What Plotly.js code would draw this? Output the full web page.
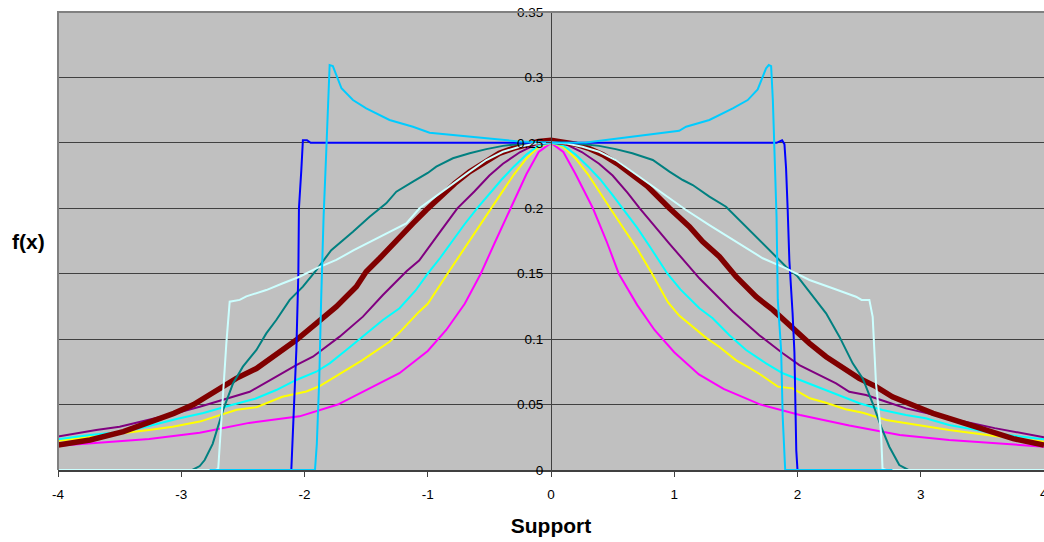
<!DOCTYPE html>
<html>
<head>
<meta charset="utf-8">
<script src="https://cdn.plot.ly/plotly-3.0.1.min.js"></script>
<style>
html,body{margin:0;padding:0;background:#fff;}
#chart{width:1044px;height:542px;}
</style>
</head>
<body>
<div id="chart"></div>
<script>
// ---- tick labels ----
const xTickVals = [-4, -3, -2, -1, 0, 1, 2, 3, 4];
const xTickText = ["-4", "-3", "-2", "-1", "0", "1", "2", "3", "4"];
const yTickVals = [0, 0.05, 0.1, 0.15, 0.2, 0.25, 0.3, 0.35];
const yTickText = ["0", "0.05", "0.1", "0.15", "0.2", "0.25", "0.3", "0.35"];

// ---- series ----
const magentaX = [-4, -3.66, -3.26, -2.85, -2.45, -2.04, -1.73, -1.5, -1.23, -1.0, -0.85, -0.7, -0.57, -0.45, -0.33, -0.2, -0.1, 0, 0.1, 0.2, 0.34, 0.45, 0.55, 0.7, 0.84, 1.0, 1.2, 1.4, 1.7, 2.02, 2.42, 2.83, 3.23, 3.6, 4];
const magentaY = [0.0186, 0.021, 0.0237, 0.0285, 0.036, 0.041, 0.05, 0.061, 0.074, 0.091, 0.107, 0.127, 0.15, 0.175, 0.2, 0.226, 0.243, 0.25, 0.243, 0.226, 0.2, 0.175, 0.15, 0.126, 0.107, 0.09, 0.073, 0.062, 0.05, 0.042, 0.034, 0.0267, 0.023, 0.0205, 0.0178];

const yellowX = [-4, -3.75, -3.47, -3.26, -3.07, -2.85, -2.55, -2.39, -2.18, -1.985, -1.88, -1.69, -1.53, -1.31, -1.23, -1.07, -1.0, -0.84, -0.7, -0.6, -0.49, -0.4, -0.3, -0.2, -0.1, 0, 0.1, 0.2, 0.3, 0.38, 0.48, 0.6, 0.7, 0.82, 0.95, 1.04, 1.204, 1.259, 1.367, 1.5, 1.61, 1.705, 1.84, 1.96, 2.1, 2.23, 2.39, 2.53, 2.72, 2.88, 3.23, 3.6, 4];
const yellowY = [0.0224, 0.025, 0.028, 0.0306, 0.033, 0.037, 0.046, 0.048, 0.056, 0.06, 0.064, 0.075, 0.084, 0.098, 0.105, 0.121, 0.127, 0.15, 0.17, 0.184, 0.2, 0.212, 0.226, 0.238, 0.247, 0.25, 0.247, 0.238, 0.226, 0.214, 0.2, 0.183, 0.169, 0.15, 0.128, 0.118, 0.1057, 0.101, 0.094, 0.084, 0.078, 0.0726, 0.0637, 0.0624, 0.0548, 0.0514, 0.0464, 0.0438, 0.0382, 0.0357, 0.0306, 0.026, 0.0216];

const cyanX = [-4, -3.74, -3.47, -3.27, -3.03, -2.82, -2.6, -2.4, -2.229, -2.067, -1.904, -1.796, -1.661, -1.526, -1.364, -1.229, -1.1, -1.0, -0.9, -0.8, -0.7, -0.6, -0.5, -0.4, -0.3, -0.2, -0.1, 0, 0.1, 0.2, 0.3, 0.4, 0.5, 0.58, 0.7, 0.8, 0.945, 1.05, 1.204, 1.312, 1.448, 1.583, 1.745, 1.88, 2.015, 2.232, 2.367, 2.502, 2.69, 2.88, 3.04, 3.23, 3.6, 4];
const cyanY = [0.0234, 0.0267, 0.0293, 0.0335, 0.0392, 0.0436, 0.0495, 0.0545, 0.0611, 0.0688, 0.0751, 0.0815, 0.0917, 0.102, 0.1146, 0.1236, 0.137, 0.15, 0.162, 0.175, 0.188, 0.2, 0.211, 0.222, 0.232, 0.241, 0.248, 0.25, 0.248, 0.241, 0.232, 0.222, 0.21, 0.2, 0.185, 0.171, 0.15, 0.138, 0.1236, 0.116, 0.103, 0.0917, 0.0815, 0.0739, 0.0688, 0.0611, 0.056, 0.051, 0.0459, 0.042, 0.0395, 0.0344, 0.028, 0.0234];

const purpleX = [-4, -3.69, -3.5, -3.26, -3.06, -2.85, -2.66, -2.445, -2.229, -2.067, -1.932, -1.715, -1.526, -1.364, -1.229, -1.17, -1.07, -0.985, -0.9, -0.76, -0.62, -0.5, -0.39, -0.25, -0.12, 0, 0.12, 0.25, 0.39, 0.5, 0.62, 0.72, 0.96, 1.204, 1.285, 1.367, 1.475, 1.69, 1.88, 2.015, 2.178, 2.313, 2.42, 2.556, 2.72, 2.88, 3.23, 3.6, 4];
const purpleY = [0.0255, 0.0306, 0.033, 0.0382, 0.043, 0.0484, 0.0535, 0.0598, 0.0713, 0.0802, 0.0866, 0.1019, 0.1172, 0.1337, 0.1465, 0.152, 0.16, 0.1707, 0.182, 0.2, 0.213, 0.225, 0.234, 0.243, 0.249, 0.25, 0.249, 0.243, 0.234, 0.225, 0.212, 0.2, 0.173, 0.1465, 0.1389, 0.131, 0.121, 0.103, 0.0892, 0.0802, 0.0726, 0.0662, 0.0598, 0.0573, 0.0522, 0.0471, 0.0395, 0.032, 0.025];

const darkRedX = [-4, -3.74, -3.47, -3.25, -3.06, -2.9, -2.715, -2.553, -2.39, -2.229, -2.067, -1.904, -1.742, -1.58, -1.5, -1.39, -1.255, -1.12, -1.012, -0.9, -0.78, -0.66, -0.54, -0.42, -0.3, -0.2, -0.1, 0, 0.1, 0.2, 0.3, 0.42, 0.54, 0.66, 0.78, 0.961, 1.123, 1.23, 1.367, 1.502, 1.664, 1.8, 1.96, 2.097, 2.232, 2.367, 2.5, 2.637, 2.77, 2.934, 3.1, 3.23, 3.5, 3.75, 4];
const darkRedY = [0.0191, 0.0229, 0.0293, 0.0369, 0.0433, 0.05, 0.0611, 0.07, 0.0775, 0.0879, 0.0993, 0.1121, 0.1248, 0.1401, 0.1515, 0.1618, 0.1758, 0.1885, 0.1987, 0.209, 0.219, 0.228, 0.235, 0.242, 0.246, 0.249, 0.251, 0.252, 0.251, 0.249, 0.246, 0.241, 0.234, 0.226, 0.217, 0.2, 0.186, 0.1745, 0.163, 0.1477, 0.1324, 0.1223, 0.1083, 0.0968, 0.0866, 0.0777, 0.0701, 0.0637, 0.056, 0.0497, 0.0433, 0.0395, 0.031, 0.024, 0.019];

const tealX = [-2.91, -2.85, -2.81, -2.745, -2.66, -2.58, -2.5, -2.39, -2.31, -2.229, -2.12, -2.013, -1.904, -1.783, -1.607, -1.472, -1.337, -1.255, -1.12, -1.0, -0.931, -0.796, -0.66, -0.525, -0.39, -0.255, -0.12, 0, 0.12, 0.255, 0.39, 0.525, 0.66, 0.826, 0.961, 1.069, 1.15, 1.285, 1.42, 1.5, 1.637, 1.772, 1.907, 2.0, 2.097, 2.232, 2.34, 2.448, 2.529, 2.61, 2.678, 2.745, 2.826, 2.88, 2.9];
const tealY = [0, 0.003, 0.0076, 0.02, 0.0459, 0.0662, 0.079, 0.0917, 0.1044, 0.1146, 0.13, 0.1401, 0.1528, 0.168, 0.1821, 0.1936, 0.2038, 0.2127, 0.2203, 0.227, 0.2318, 0.2382, 0.242, 0.2452, 0.2477, 0.2492, 0.2501, 0.2505, 0.2501, 0.2492, 0.2477, 0.2452, 0.242, 0.2369, 0.228, 0.2216, 0.2178, 0.2089, 0.2012, 0.1936, 0.1809, 0.168, 0.1554, 0.148, 0.136, 0.1197, 0.1019, 0.0815, 0.07, 0.051, 0.0331, 0.0178, 0.0038, 0.0013, 0];

const blueX = [-2.107, -2.094, -2.066, -2.05, -2.045, -2.026, -2.013, -1.98, -1.95, 1.83, 1.875, 1.894, 1.907, 1.92, 1.934, 1.96, 1.975, 1.99, 2.0];
const blueY = [0, 0.028, 0.092, 0.15, 0.2, 0.229, 0.252, 0.252, 0.25, 0.25, 0.252, 0.249, 0.231, 0.2, 0.16, 0.12, 0.09, 0.015, 0];

const lightCyanX = [-4, -2.72, -2.70, -2.675, -2.634, -2.607, -2.526, -2.472, -2.31, -2.175, -2.04, -1.904, -1.796, -1.742, -1.6, -1.39, -1.174, -1.067, -0.959, -0.796, -0.66, -0.525, -0.39, -0.255, -0.12, 0, 0.12, 0.255, 0.39, 0.525, 0.66, 0.796, 0.961, 1.096, 1.285, 1.502, 1.718, 1.907, 2.097, 2.285, 2.475, 2.52, 2.583, 2.61, 2.637, 2.678, 2.69, 2.72, 4];
const lightCyanY = [0, 0, 0.001, 0.04, 0.097, 0.1286, 0.13, 0.1327, 0.1375, 0.1427, 0.1477, 0.1541, 0.158, 0.1605, 0.168, 0.1783, 0.1885, 0.2, 0.2076, 0.219, 0.228, 0.2369, 0.2432, 0.247, 0.2496, 0.2502, 0.2496, 0.247, 0.2432, 0.2369, 0.228, 0.219, 0.2076, 0.1987, 0.1872, 0.1745, 0.1618, 0.1541, 0.1452, 0.1389, 0.1324, 0.13, 0.13, 0.117, 0.066, 0.028, 0.001, 0, 0];

const skyBlueX = [-2.77, -1.915, -1.9, -1.88, -1.865, -1.845, -1.823, -1.81, -1.796, -1.77, -1.70, -1.607, -1.499, -1.31, -1.12, -0.985, -0.796, -0.525, -0.255, -0.04, 0, 0.285, 0.555, 0.826, 1.04, 1.096, 1.285, 1.475, 1.596, 1.677, 1.745, 1.767, 1.786, 1.8, 1.82, 1.83, 1.84, 1.867, 1.88, 1.90, 2.77];
const skyBlueY = [0, 0, 0.02, 0.07, 0.13, 0.1936, 0.2445, 0.2827, 0.3095, 0.3087, 0.2917, 0.2827, 0.2764, 0.2675, 0.2623, 0.2578, 0.2561, 0.2535, 0.251, 0.2502, 0.25, 0.2502, 0.2535, 0.2568, 0.2592, 0.2623, 0.2675, 0.2764, 0.2827, 0.2909, 0.307, 0.3095, 0.3087, 0.2827, 0.219, 0.1936, 0.13, 0.0917, 0.0407, 0, 0];

// ---- traces ----
function line(x, y, color, width) {
  return {x: x, y: y, type: 'scatter', mode: 'lines',
          line: {color: color, width: width}, hoverinfo: 'skip'};
}
const data = [
  line(magentaX, magentaY, '#FF00FF', 2),
  line(yellowX, yellowY, '#FFFF00', 2),
  line(cyanX, cyanY, '#00FFFF', 2),
  line(purpleX, purpleY, '#800080', 2),
  line(darkRedX, darkRedY, '#800000', 5.5),
  line(tealX, tealY, '#008080', 2),
  line(blueX, blueY, '#0000FF', 2),
  line(lightCyanX, lightCyanY, '#CCFFFF', 2),
  line(skyBlueX, skyBlueY, '#00CCFF', 2)
];

const FONT = 'Liberation Sans, Arial, Helvetica, sans-serif';
const layout = {
  width: 1044, height: 542,
  margin: {l: 58, r: 0, t: 12, b: 72, pad: 0},
  paper_bgcolor: '#FFFFFF',
  plot_bgcolor: '#C0C0C0',
  showlegend: false,
  font: {family: FONT, color: '#000000', size: 13.5},
  xaxis: {
    range: [-4, 4], domain: [0, 1],
    tickvals: xTickVals, ticktext: xTickText,
    ticks: 'outside', ticklen: 5, tickwidth: 1, tickcolor: '#404040',
    showgrid: false, zeroline: false,
    showline: true, linecolor: '#404040', linewidth: 2,
    tickfont: {family: FONT, size: 13.5, color: '#000'},
    ticklabelstandoff: 6,
    automargin: false,
    title: {text: 'Support', font: {family: FONT, size: 21, weight: 700, color: '#000'}, standoff: 17}
  },
  yaxis: {
    range: [0, 0.35],
    anchor: 'free', position: 0.5, side: 'left',
    tickvals: yTickVals, ticktext: yTickText,
    ticks: 'outside', ticklen: 5, tickwidth: 1, tickcolor: '#404040',
    showgrid: true, gridcolor: '#404040', gridwidth: 1,
    zeroline: false,
    showline: true, linecolor: '#404040', linewidth: 1,
    tickfont: {family: FONT, size: 13.5, color: '#000'},
    automargin: false
  },
  shapes: [
    {type: 'path', xref: 'paper', yref: 'paper', path: 'M0,0 L0,1 L1,1',
     line: {color: '#808080', width: 2}, layer: 'above'}
  ],
  annotations: [
    {text: 'f(x)', xref: 'paper', yref: 'paper', x: -0.0304, y: 0.498,
     xanchor: 'center', yanchor: 'middle', showarrow: false,
     font: {family: FONT, size: 21, weight: 700, color: '#000'}},
    // last x tick label, which runs off the right edge of the page
    {text: xTickText[8], xref: 'x', yref: 'paper', x: xTickVals[8], y: 0,
     xanchor: 'center', yanchor: 'top', yshift: -14, showarrow: false,
     font: {family: FONT, size: 13.5, color: '#000'}}
  ]
};

Plotly.newPlot('chart', data, layout, {displayModeBar: false, staticPlot: true});
</script>
</body>
</html>
